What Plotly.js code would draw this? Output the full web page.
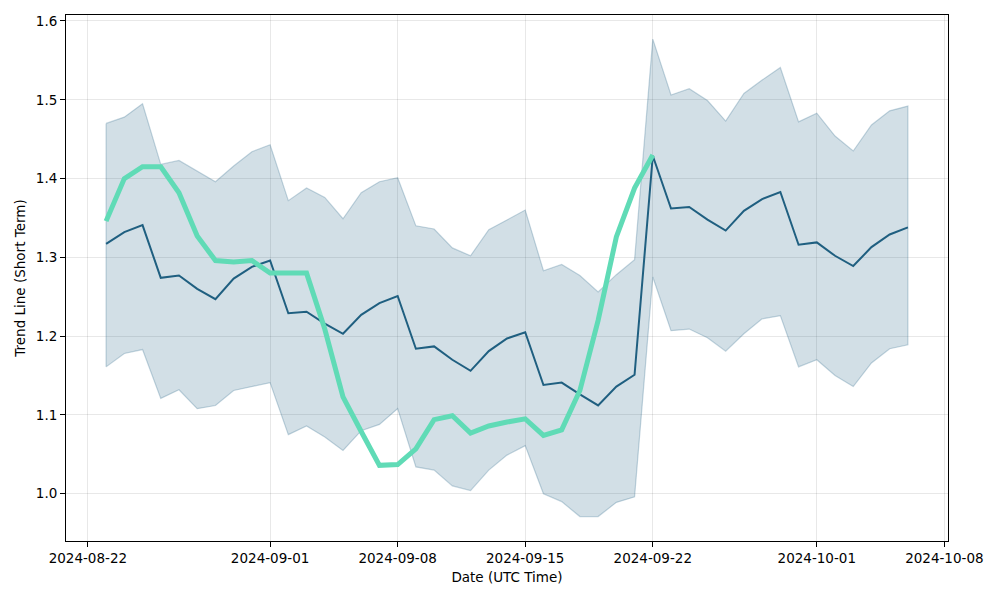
<!DOCTYPE html>
<html>
<head>
<meta charset="utf-8">
<script src="https://cdn.plot.ly/plotly-3.0.1.min.js"></script>
<style>
  html, body { margin: 0; padding: 0; background: #fff; }
  #chart { width: 1000px; height: 600px; }
</style>
</head>
<body>
<div id="chart"></div>
<script>
// daily dates, 2024-08-23 .. 2024-10-06
var dates = [
  "2024-08-23", "2024-08-24", "2024-08-25", "2024-08-26", "2024-08-27",
  "2024-08-28", "2024-08-29", "2024-08-30", "2024-08-31", "2024-09-01",
  "2024-09-02", "2024-09-03", "2024-09-04", "2024-09-05", "2024-09-06",
  "2024-09-07", "2024-09-08", "2024-09-09", "2024-09-10", "2024-09-11",
  "2024-09-12", "2024-09-13", "2024-09-14", "2024-09-15", "2024-09-16",
  "2024-09-17", "2024-09-18", "2024-09-19", "2024-09-20", "2024-09-21",
  "2024-09-22", "2024-09-23", "2024-09-24", "2024-09-25", "2024-09-26",
  "2024-09-27", "2024-09-28", "2024-09-29", "2024-09-30", "2024-10-01",
  "2024-10-02", "2024-10-03", "2024-10-04", "2024-10-05", "2024-10-06"
];

// trend line (short term) mean
var trend = [
  1.317, 1.332, 1.341, 1.274, 1.277, 1.260, 1.247, 1.273, 1.288, 1.296,
  1.229, 1.231, 1.216, 1.203, 1.227, 1.242, 1.251, 1.184, 1.187, 1.170,
  1.156, 1.181, 1.197, 1.205, 1.138, 1.141, 1.126, 1.112, 1.136, 1.151,
  1.429, 1.362, 1.364, 1.348, 1.334, 1.359, 1.374, 1.383, 1.316, 1.319,
  1.302, 1.289, 1.313, 1.329, 1.338
];

// band upper / lower
var upper = [
  1.470, 1.478, 1.495, 1.418, 1.423, 1.410, 1.396, 1.416, 1.434, 1.443,
  1.372, 1.388, 1.376, 1.349, 1.382, 1.396, 1.401, 1.340, 1.336, 1.312,
  1.302, 1.335, 1.348, 1.360, 1.283, 1.291, 1.277, 1.256, 1.278, 1.297,
  1.577, 1.506, 1.514, 1.499, 1.473, 1.508, 1.525, 1.541, 1.472, 1.483,
  1.454, 1.435, 1.468, 1.486, 1.492
];
var lower = [
  1.161, 1.178, 1.183, 1.121, 1.132, 1.108, 1.112, 1.131, 1.136, 1.141,
  1.075, 1.086, 1.072, 1.055, 1.080, 1.088, 1.108, 1.034, 1.030, 1.010,
  1.004, 1.030, 1.049, 1.061, 1.000, 0.990, 0.971, 0.971, 0.989, 0.996,
  1.275, 1.207, 1.209, 1.198, 1.181, 1.203, 1.222, 1.226, 1.161, 1.170,
  1.150, 1.136, 1.166, 1.184, 1.189
];

// actual values (green), 2024-08-23 .. 2024-09-22
var actual = [
  1.346, 1.400, 1.415, 1.415, 1.382, 1.327, 1.296, 1.294, 1.296, 1.280,
  1.280, 1.280, 1.209, 1.123, 1.079, 1.036, 1.037, 1.057, 1.094, 1.099,
  1.077, 1.086, 1.091, 1.095, 1.074, 1.081, 1.131, 1.220, 1.326, 1.388,
  1.430
];

var xTicks = ["2024-08-22", "2024-09-01", "2024-09-08", "2024-09-15",
              "2024-09-22", "2024-10-01", "2024-10-08"];

// closed polygon for the band, like fill_between with edges
var bandX = dates.concat(dates.slice().reverse()).concat([dates[0]]);
var bandY = upper.concat(lower.slice().reverse()).concat([upper[0]]);

var band = {
  x: bandX,
  y: bandY,
  type: 'scatter',
  mode: 'lines',
  fill: 'toself',
  fillcolor: 'rgba(31,94,130,0.2)',
  line: {color: 'rgba(31,94,130,0.25)', width: 1.2},
  hoverinfo: 'skip',
  showlegend: false
};

var trendLine = {
  x: dates,
  y: trend,
  type: 'scatter',
  mode: 'lines',
  line: {color: '#1f5f80', width: 2},
  showlegend: false
};

var actualLine = {
  x: dates.slice(0, actual.length),
  y: actual,
  type: 'scatter',
  mode: 'lines',
  line: {color: '#60dbb6', width: 5},
  showlegend: false
};

var axisFont = {family: 'DejaVu Sans', size: 13.5, color: '#000'};

var layout = {
  width: 1000,
  height: 600,
  margin: {l: 66, r: 52, t: 15, b: 59},
  paper_bgcolor: '#fff',
  plot_bgcolor: '#fff',
  font: axisFont,
  showlegend: false,
  xaxis: {
    type: 'date',
    range: ['2024-08-20 19:12', '2024-10-08 04:48'],
    tickvals: xTicks,
    ticktext: xTicks,
    tickfont: axisFont,
    ticks: 'outside',
    ticklen: 5,
    tickcolor: '#000',
    showline: true,
    linecolor: '#000',
    linewidth: 1,
    mirror: true,
    showgrid: true,
    gridcolor: 'rgba(0,0,0,0.09)',
    gridwidth: 1,
    zeroline: false,
    title: {text: 'Date (UTC Time)', font: axisFont, standoff: 7}
  },
  yaxis: {
    range: [0.940, 1.6076],
    tickvals: [1.0, 1.1, 1.2, 1.3, 1.4, 1.5, 1.6],
    tickformat: '.1f',
    tickfont: axisFont,
    ticks: 'outside',
    ticklen: 5,
    tickcolor: '#000',
    showline: true,
    linecolor: '#000',
    linewidth: 1,
    mirror: true,
    showgrid: true,
    gridcolor: 'rgba(0,0,0,0.09)',
    gridwidth: 1,
    zeroline: false,
    title: {text: 'Trend Line (Short Term)', font: axisFont, standoff: 7}
  }
};

Plotly.newPlot('chart', [band, trendLine, actualLine], layout, {staticPlot: true});
</script>
</body>
</html>
